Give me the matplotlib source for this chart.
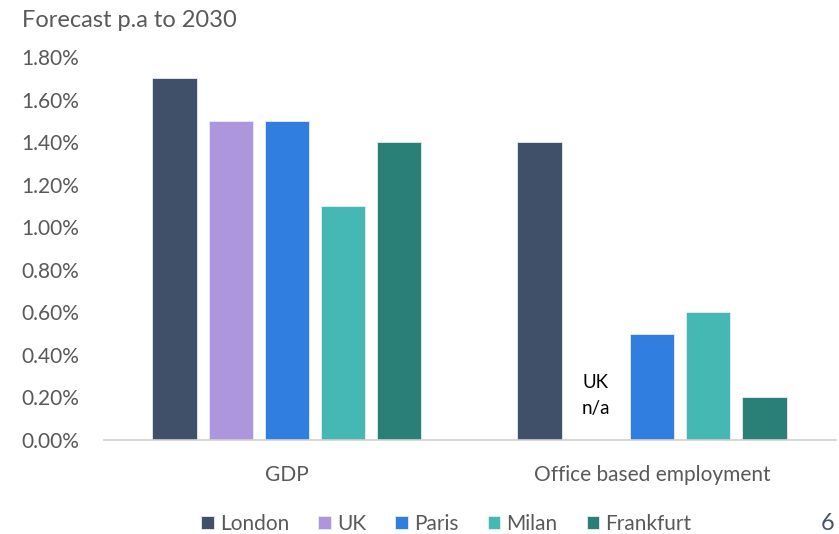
import numpy as np
import matplotlib.pyplot as plt
from matplotlib.ticker import FuncFormatter

plt.rcParams['font.family'] = ['Lato', 'DejaVu Sans']

categories = ["GDP", "Office based employment"]
cities = ["London", "UK", "Paris", "Milan", "Frankfurt"]
colors = ["#3F5068", "#AD96DC", "#2F7EE0", "#45B8B3", "#2A7F77"]

# forecast growth per annum (%); UK has no office employment figure
london = [1.7, 1.4]
uk = [1.5, np.nan]
paris = [1.5, 0.5]
milan = [1.1, 0.6]
frankfurt = [1.4, 0.2]
series = [london, uk, paris, milan, frankfurt]

grey = "#595959"

fig = plt.figure(figsize=(8.39, 5.34), dpi=100)
ax = fig.add_axes([0.124, 0.176, 0.872, 0.717])

x = np.arange(len(categories))
step = 0.154
width = 0.121
for i, (name, vals, c) in enumerate(zip(cities, series, colors)):
    ax.bar(x + (i - 2) * step, vals, width, color=c, label=name,
           edgecolor="#E8ECF2", linewidth=0.6)

# note where the UK bar would be
ax.text(x[1] - step, 0.21, "UK\nn/a", ha="center", va="center",
        fontsize=13.5, color="black", linespacing=1.6)

ax.set_ylim(0, 1.8)
ax.set_xlim(-0.501, 1.503)
ax.set_yticks(np.arange(0, 1.81, 0.2))
ax.yaxis.set_major_formatter(FuncFormatter(lambda v, p: f"{v:.2f}%"))
ax.set_xticks(x)
ax.set_xticklabels(categories)
ax.tick_params(axis="y", length=0, labelsize=15, labelcolor=grey, pad=18)
ax.tick_params(axis="x", length=0, labelsize=15, labelcolor=grey, pad=18)
for s in ["top", "right", "left"]:
    ax.spines[s].set_visible(False)
ax.spines["bottom"].set_color("#D0D0D0")
ax.spines["bottom"].set_linewidth(1.2)

fig.text(0.026, 0.962, "Forecast p.a to 2030", fontsize=17, color=grey,
         ha="left", va="center")
fig.text(0.995, 0.02, "6", fontsize=17, color="#44546A", ha="right", va="center")

fig.legend(loc="center", bbox_to_anchor=(0.532, 0.019), ncol=5, frameon=False,
           fontsize=15, labelcolor=grey, handlelength=0.6, handleheight=0.6,
           handletextpad=0.3, columnspacing=1.4)

fig.savefig("out.png", dpi=100)
